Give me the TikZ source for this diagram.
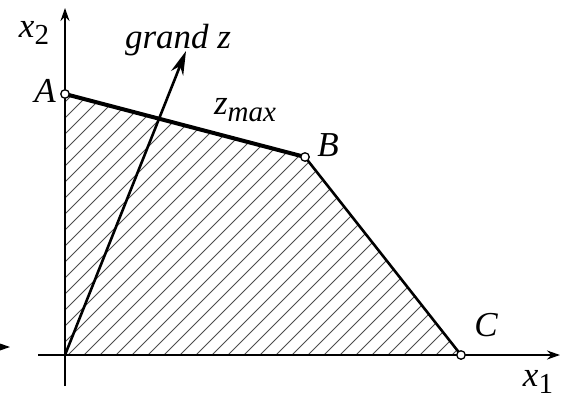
\documentclass[tikz,border=0pt]{standalone}
\usepackage{fontspec}
\setmainfont{Liberation Serif}
\usetikzlibrary{arrows.meta}
\newcommand\lbsub[1]{\raisebox{-0.4ex}{\fontsize{29}{31}\selectfont #1}}
\tikzset{
  lbl/.style={font=\fontsize{35}{38}\selectfont\itshape, inner sep=0pt},
  ax/.style={line width=2pt, -{Stealth[length=13pt,width=9pt]}},
  pt/.style={circle, draw=black, fill=white, line width=1.3pt, minimum size=8.5pt, inner sep=0pt},
  hatch/.style={line width=0.9pt, black!70},
}
\begin{document}
\begin{tikzpicture}[x=1pt,y=-1pt]
\useasboundingbox[fill=white] (0,0) rectangle (561,399);
% points
\coordinate (O) at (65,355);
\coordinate (Ap) at (65,94);
\coordinate (Bp) at (305,157);
\coordinate (Cp) at (461,355);
% hatching
\begin{scope}
\clip (O) -- (Ap) -- (Bp) -- (Cp) -- cycle;
\foreach \i in {-300,-284,...,480} \draw[hatch] (\i,355) -- ++(300,-300);
\end{scope}
% axes
\coordinate (xs) at (38,355);
\coordinate (xe) at (560,355);
\coordinate (ys) at (65,386);
\coordinate (ye) at (65,8);
\draw[ax] (xs) -- (xe);
\draw[ax] (ys) -- (ye);
% stray arrow at left edge
\coordinate (ls) at (-40,347);
\coordinate (le) at (10,347);
\draw[ax] (ls) -- (le);
% boundary
\draw[line width=4pt] (Ap) -- (Bp);
\draw[line width=2.6pt] (Bp) -- (Cp);
% grand z
\coordinate (gz) at (186,51);
\draw[line width=2.6pt, -{Stealth[length=24pt,width=13pt]}] (O) -- (gz);
% points
\node[pt] (A) at (Ap) {};
\node[pt] (B) at (Bp) {};
\node[pt] (C) at (Cp) {};
% labels
\node[lbl] (lx2) at (34,33) {x\lbsub{\upshape 2}};
\node[lbl] (lA) at (45,91) {A};
\node[lbl] (lB) at (328,145) {B};
\node[lbl] (lC) at (486,325) {C};
\node[lbl] (lgz) at (178,40) {grand z};
\node[lbl] (lz) at (245,110) {z\lbsub{max}};
\node[lbl] (lx1) at (538,382) {x\lbsub{\upshape 1}};
\end{tikzpicture}
\end{document}
